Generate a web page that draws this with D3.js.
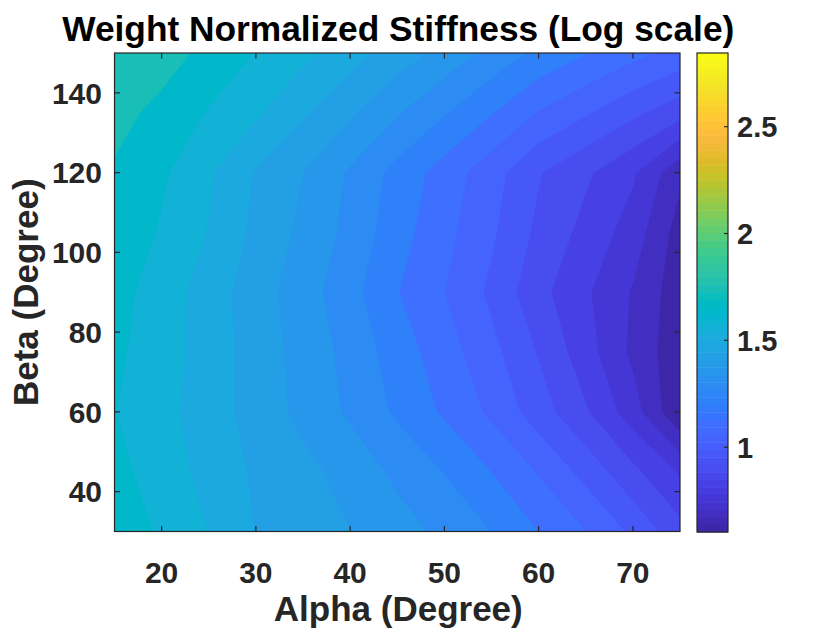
<!DOCTYPE html>
<html>
<head>
<meta charset="utf-8">
<script src="https://cdn.jsdelivr.net/npm/d3@7"></script>
<style>
  html, body { margin: 0; padding: 0; background: #fff; }
  svg { display: block; }
  text { font-family: "Liberation Sans", Arial, Helvetica, sans-serif; font-weight: bold; }
</style>
</head>
<body>
<svg id="chart" width="840" height="630"></svg>
<script>
// ---- data ----
const alphaDeg = [15, 20, 25, 30, 35, 40, 45, 50, 55, 60, 65, 70, 75];
const betaDeg = [30, 45, 60, 75, 90, 105, 120, 135, 150];
// log-scaled weight-normalized stiffness, one row per beta (30 -> 150), one column per alpha (15 -> 75)
const row30  = [1.700, 1.637, 1.573, 1.497, 1.461, 1.426, 1.381, 1.332, 1.275, 1.200, 1.127, 1.036, 0.929];
const row45  = [1.672, 1.612, 1.549, 1.489, 1.447, 1.396, 1.333, 1.273, 1.200, 1.120, 1.026, 0.921, 0.818];
const row60  = [1.651, 1.597, 1.536, 1.469, 1.404, 1.337, 1.263, 1.189, 1.111, 1.012, 0.911, 0.786, 0.612];
const row75  = [1.664, 1.607, 1.541, 1.465, 1.398, 1.325, 1.239, 1.160, 1.073, 0.971, 0.859, 0.736, 0.625];
const row90  = [1.677, 1.612, 1.540, 1.459, 1.384, 1.302, 1.204, 1.127, 1.035, 0.926, 0.838, 0.745, 0.633];
const row105 = [1.709, 1.640, 1.570, 1.481, 1.408, 1.327, 1.231, 1.150, 1.063, 0.960, 0.878, 0.793, 0.645];
const row120 = [1.715, 1.661, 1.584, 1.494, 1.425, 1.340, 1.250, 1.168, 1.082, 0.983, 0.915, 0.838, 0.695];
const row135 = [1.750, 1.702, 1.643, 1.585, 1.509, 1.436, 1.357, 1.283, 1.205, 1.121, 1.060, 0.994, 0.930];
const row150 = [1.785, 1.759, 1.702, 1.646, 1.593, 1.532, 1.465, 1.398, 1.327, 1.259, 1.205, 1.149, 1.100];
const zRows = [row30, row45, row60, row75, row90, row105, row120, row135, row150];
const contourLevels = [0.603, 0.678, 0.752, 0.827, 0.902, 0.977, 1.051, 1.126, 1.201, 1.276, 1.350, 1.425, 1.500, 1.574, 1.649, 1.724, 1.798, 1.873];
const colorLimits = [0.603, 2.845];
const xTicks = [20, 30, 40, 50, 60, 70];
const yTicks = [40, 60, 80, 100, 120, 140];
const cbTicks = [1, 1.5, 2, 2.5];
const titleText = "Weight Normalized Stiffness (Log scale)";
const xLabelText = "Alpha (Degree)";
const yLabelText = "Beta (Degree)";
// MATLAB parula (64 entries)
const parula = [
[0.2422,0.1504,0.6603],[0.2504,0.1650,0.7076],[0.2578,0.1818,0.7511],[0.2647,0.1978,0.7952],
[0.2706,0.2147,0.8364],[0.2751,0.2342,0.8710],[0.2783,0.2559,0.8991],[0.2803,0.2782,0.9221],
[0.2813,0.3006,0.9414],[0.2810,0.3228,0.9579],[0.2795,0.3447,0.9717],[0.2760,0.3667,0.9829],
[0.2699,0.3892,0.9906],[0.2602,0.4123,0.9952],[0.2440,0.4358,0.9988],[0.2206,0.4603,0.9973],
[0.1963,0.4847,0.9892],[0.1834,0.5074,0.9798],[0.1786,0.5289,0.9682],[0.1764,0.5499,0.9520],
[0.1687,0.5703,0.9359],[0.1540,0.5902,0.9218],[0.1460,0.6091,0.9079],[0.1380,0.6276,0.8973],
[0.1248,0.6459,0.8883],[0.1113,0.6635,0.8763],[0.0952,0.6798,0.8598],[0.0689,0.6948,0.8394],
[0.0297,0.7082,0.8163],[0.0036,0.7203,0.7917],[0.0067,0.7312,0.7660],[0.0433,0.7411,0.7394],
[0.0964,0.7500,0.7120],[0.1408,0.7584,0.6842],[0.1717,0.7670,0.6554],[0.1938,0.7758,0.6251],
[0.2161,0.7843,0.5923],[0.2470,0.7918,0.5567],[0.2906,0.7973,0.5188],[0.3406,0.8008,0.4789],
[0.3909,0.8029,0.4354],[0.4456,0.8024,0.3909],[0.5044,0.7993,0.3480],[0.5616,0.7942,0.3045],
[0.6174,0.7876,0.2612],[0.6720,0.7793,0.2227],[0.7242,0.7698,0.1910],[0.7738,0.7598,0.1646],
[0.8203,0.7498,0.1535],[0.8634,0.7406,0.1596],[0.9035,0.7330,0.1774],[0.9393,0.7288,0.2100],
[0.9728,0.7298,0.2394],[0.9956,0.7434,0.2371],[0.9970,0.7659,0.2199],[0.9952,0.7893,0.2028],
[0.9892,0.8136,0.1885],[0.9786,0.8386,0.1766],[0.9676,0.8639,0.1643],[0.9610,0.8890,0.1537],
[0.9597,0.9135,0.1423],[0.9628,0.9373,0.1265],[0.9691,0.9606,0.1064],[0.9769,0.9839,0.0805]];

// ---- layout ----
const plot = { left: 114.5, right: 680, top: 53, bottom: 531.5 };
const cb = { left: 697, right: 728, top: 53, bottom: 532 };
const axisColor = "#262626";

const svg = d3.select("#chart");
const x = d3.scaleLinear().domain([alphaDeg[0], alphaDeg[alphaDeg.length - 1]]).range([plot.left, plot.right]);
const y = d3.scaleLinear().domain([betaDeg[0], betaDeg[betaDeg.length - 1]]).range([plot.bottom, plot.top]);
const nx = alphaDeg.length, ny = betaDeg.length;
// grid-index -> data coordinate
const gx = d3.scaleLinear().domain([0.5, nx - 0.5]).range([alphaDeg[0], alphaDeg[nx - 1]]);
const gy = d3.scaleLinear().domain([0.5, ny - 0.5]).range([betaDeg[0], betaDeg[ny - 1]]);

const cmapRGB = parula.map(c => d3.rgb(c[0] * 255, c[1] * 255, c[2] * 255).formatHex());
function colorOf(v) {
  let idx = Math.floor((v - colorLimits[0]) / (colorLimits[1] - colorLimits[0]) * cmapRGB.length + 1e-6);
  idx = Math.max(0, Math.min(cmapRGB.length - 1, idx));
  return cmapRGB[idx];
}

// ---- contour fill ----
const values = [];
zRows.forEach(r => r.forEach(v => values.push(v)));
const contours = d3.contours().size([nx, ny]).thresholds(contourLevels)(values);
const proj = d3.geoTransform({
  point: function (px, py) { this.stream.point(x(gx(px)), y(gy(py))); }
});
const path = d3.geoPath(proj);

svg.append("defs").append("clipPath").attr("id", "plotclip")
  .append("rect").attr("x", plot.left).attr("y", plot.top)
  .attr("width", plot.right - plot.left).attr("height", plot.bottom - plot.top);

svg.append("g").attr("clip-path", "url(#plotclip)")
  .selectAll("path").data(contours).join("path")
  .attr("d", path)
  .attr("fill", d => colorOf(d.value))
  .attr("stroke", d => colorOf(d.value))
  .attr("stroke-width", 0.3);

// ---- axes box & ticks ----
const g = svg.append("g");
g.append("rect").attr("x", plot.left).attr("y", plot.top)
  .attr("width", plot.right - plot.left).attr("height", plot.bottom - plot.top)
  .attr("fill", "none").attr("stroke", axisColor).attr("stroke-width", 1.2);
const tl = 5.5;
xTicks.forEach(t => {
  g.append("line").attr("x1", x(t)).attr("x2", x(t)).attr("y1", plot.bottom).attr("y2", plot.bottom - tl).attr("stroke", axisColor).attr("stroke-width", 1.2);
  g.append("line").attr("x1", x(t)).attr("x2", x(t)).attr("y1", plot.top).attr("y2", plot.top + tl).attr("stroke", axisColor).attr("stroke-width", 1.2);
  g.append("text").attr("x", x(t)).attr("y", 582.5).attr("text-anchor", "middle")
    .attr("font-size", 30).attr("fill", axisColor).text(t);
});
yTicks.forEach(t => {
  g.append("line").attr("x1", plot.left).attr("x2", plot.left + tl).attr("y1", y(t)).attr("y2", y(t)).attr("stroke", axisColor).attr("stroke-width", 1.2);
  g.append("line").attr("x1", plot.right).attr("x2", plot.right - tl).attr("y1", y(t)).attr("y2", y(t)).attr("stroke", axisColor).attr("stroke-width", 1.2);
  g.append("text").attr("x", 102).attr("y", y(t) + 10.8).attr("text-anchor", "end")
    .attr("font-size", 30).attr("fill", axisColor).text(t);
});

// ---- labels ----
svg.append("text").attr("x", (plot.left + plot.right) / 2 + 1).attr("y", 41).attr("text-anchor", "middle")
  .attr("font-size", 35.3).attr("fill", "#000").text(titleText);
svg.append("text").attr("x", (plot.left + plot.right) / 2 + 1).attr("y", 621).attr("text-anchor", "middle")
  .attr("font-size", 35).attr("fill", axisColor).text(xLabelText);
svg.append("text").attr("transform", `translate(38,${(plot.top + plot.bottom) / 2}) rotate(-90)`)
  .attr("text-anchor", "middle").attr("font-size", 35).attr("fill", axisColor).text(yLabelText);

// ---- colorbar ----
const cy = d3.scaleLinear().domain(colorLimits).range([cb.bottom, cb.top]);
const nC = cmapRGB.length;
const step = (colorLimits[1] - colorLimits[0]) / nC;
svg.append("g").selectAll("rect").data(cmapRGB).join("rect")
  .attr("x", cb.left)
  .attr("y", (c, i) => cy(colorLimits[0] + (i + 1) * step))
  .attr("width", cb.right - cb.left)
  .attr("height", (c, i) => cy(colorLimits[0] + i * step) - cy(colorLimits[0] + (i + 1) * step) + 0.5)
  .attr("fill", c => c);
svg.append("rect").attr("x", cb.left).attr("y", cb.top).attr("width", cb.right - cb.left)
  .attr("height", cb.bottom - cb.top).attr("fill", "none").attr("stroke", axisColor).attr("stroke-width", 1.2);
cbTicks.forEach(t => {
  svg.append("line").attr("x1", cb.right).attr("x2", cb.right - 4).attr("y1", cy(t)).attr("y2", cy(t)).attr("stroke", axisColor).attr("stroke-width", 1.2);
  svg.append("text").attr("x", cb.right + 9).attr("y", cy(t) + 10.5).attr("font-size", 29)
    .attr("fill", axisColor).text(t);
});
</script>
</body>
</html>
